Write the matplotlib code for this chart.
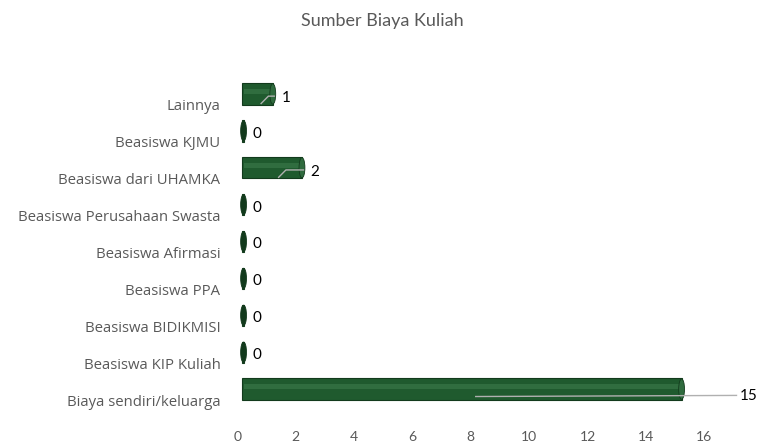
import matplotlib.pyplot as plt
import matplotlib.transforms as mtransforms
from matplotlib.patches import Ellipse
import numpy as np

plt.rcParams['font.family'] = ['Lato', 'DejaVu Sans']

categories = ['Biaya sendiri/keluarga', 'Beasiswa KIP Kuliah', 'Beasiswa BIDIKMISI',
              'Beasiswa PPA', 'Beasiswa Afirmasi', 'Beasiswa Perusahaan Swasta',
              'Beasiswa dari UHAMKA', 'Beasiswa KJMU', 'Lainnya']
values = [15, 0, 0, 0, 0, 0, 2, 0, 1]
xticks = [0, 2, 4, 6, 8, 10, 12, 14, 16]

green = '#1f5a2e'
dark = '#123a1c'
light = '#3f7d4e'
depth = 0.22  # 3d-ish shift of the cylinders

fig = plt.figure(figsize=(7.65, 4.44), dpi=100)
ax = fig.add_axes([0.31, 0.082, 0.668, 0.748])

y = np.arange(len(categories))
h = 0.58
vals = np.array(values)
ax.barh(y, vals + 0.05, left=depth - 0.05, height=h, color=green, edgecolor=dark,
        linewidth=0.8, zorder=2)
# highlight stripe
ax.barh(y + 0.07, vals, left=depth, height=h * 0.22, color=light, alpha=0.55,
        linewidth=0, zorder=3)

for yi, v in zip(y, values):
    # cylinder end cap
    ax.add_patch(Ellipse((v + depth, yi), 0.2, h * 0.95,
                         facecolor=dark if v == 0 else '#2f6b3e',
                         edgecolor=dark, linewidth=0.6, zorder=4))
    if v == 0:
        ax.text(v + depth + 0.3, yi - 0.08, str(v), va='center', ha='left',
                fontsize=11, color='black')
    elif v < 5:
        ax.plot([v * 0.6 + depth, v * 0.6 + depth + 0.25, v + depth + 0.05],
                [yi - 0.26, yi - 0.06, yi - 0.06], color='#b0b0b0', lw=1, zorder=5)
        ax.text(v + depth + 0.3, yi - 0.12, str(v), va='center', ha='left',
                fontsize=11, color='black')
    else:
        ax.plot([v * 0.53 + depth, v + 2.1], [yi - 0.2, yi - 0.17],
                color='#b0b0b0', lw=1, zorder=5)
        ax.text(v + 2.2, yi - 0.19, str(v), va='center', ha='left',
                fontsize=11, color='black')

ax.set_xlim(0, 17.5)
ax.set_ylim(-0.5, len(categories) - 0.5)
ax.set_xticks(xticks)
ax.set_yticks(y)
ax.set_yticklabels(categories, fontfamily='Open Sans', fontsize=10.7)
ax.tick_params(axis='both', length=0, colors='#595959')
ax.tick_params(axis='x', labelsize=10, pad=17)
ax.tick_params(axis='y', pad=12)
shift = mtransforms.ScaledTranslation(0, -11 / 100, fig.dpi_scale_trans)
for lab in ax.get_yticklabels():
    lab.set_transform(lab.get_transform() + shift)
for s in ax.spines.values():
    s.set_visible(False)

fig.suptitle('Sumber Biaya Kuliah', y=0.97, fontsize=13, color='#595959')

fig.savefig('out.png', dpi=100)
